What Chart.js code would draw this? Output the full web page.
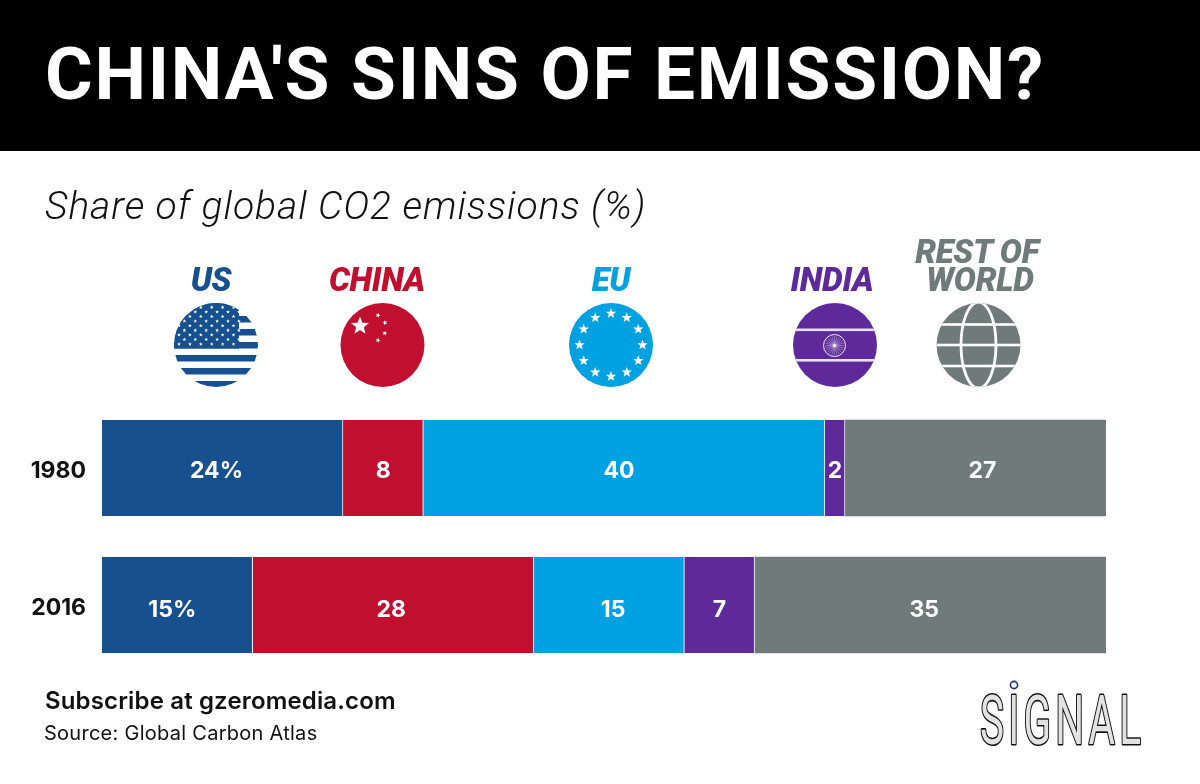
<!DOCTYPE html>
<html>
<head>
<meta charset="utf-8">
<title>China's sins of emission?</title>
<script src="https://cdn.jsdelivr.net/npm/chart.js@4"></script>
<style>
  html, body { margin: 0; padding: 0; background: #fff; }
  #page { position: relative; width: 1200px; height: 784px; overflow: hidden; font-family: Roboto, sans-serif; }
  #band { position: absolute; left: 0; top: 0; width: 1200px; height: 151px; background: #000; }
  canvas { position: absolute; left: 0; top: 0; }
  .txt { position: absolute; white-space: nowrap; line-height: 1; }
  #title { left: 45px; top: 38px; font-size: 73px; font-weight: 700; color: #fff; letter-spacing: 1.7px; }
  #sub { left: 45px; top: 187px; font-size: 39px; font-weight: 300; font-style: italic; color: #111; letter-spacing: 0.95px; }
  #subscribe { left: 45px; top: 689px; font-family: Inter, sans-serif; font-size: 24px; font-weight: 600; color: #111; letter-spacing: 0.15px; }
  #source { left: 44px; top: 723px; font-family: Inter, sans-serif; font-size: 20px; font-weight: 400; color: #111; letter-spacing: 0.27px; }
  .head { font-size: 33px; font-weight: 900; font-style: italic; transform: translateX(-50%); letter-spacing: -0.3px; }
</style>
</head>
<body>
<div id="page">
  <div id="band"></div>
  <canvas id="chart" width="1200" height="784"></canvas>
  <div class="txt" id="title">CHINA'S SINS OF EMISSION?</div>
  <div class="txt" id="sub">Share of global CO2 emissions (%)</div>
  <div class="txt head" style="left:211px;top:263px;color:#16508f">US</div>
  <div class="txt head" style="left:377px;top:263px;color:#c1102f">CHINA</div>
  <div class="txt head" style="left:611px;top:263px;color:#00a1e0">EU</div>
  <div class="txt head" style="left:832px;top:263px;color:#5e2a9b">INDIA</div>
  <div class="txt head" style="left:977px;top:235px;color:#6f7b79">REST OF</div>
  <div class="txt head" style="left:980px;top:263px;color:#6f7b79">WORLD</div>
  <div class="txt" id="subscribe">Subscribe at gzeromedia.com</div>
  <div class="txt" id="source">Source: Global Carbon Atlas</div>
</div>
<script>
// data
const years = ["1980", "2016"];
const usShare = [24, 15];
const chinaShare = [8, 28];
const euShare = [40, 15];
const indiaShare = [2, 7];
const restShare = [26, 35];   // the 1980 bar is drawn as 26 although labelled 27
const usLabels = ["24%", "15%"];
const chinaLabels = ["8", "28"];
const euLabels = ["40", "15"];
const indiaLabels = ["2", "7"];
const restLabels = ["27", "35"];

const BLUE = "#16508f", RED = "#c1102f", SKY = "#00a1e0", PURPLE = "#5e2a9b", GREY = "#6f7b79";

function makeSeries(data, color, labels, shift) {
  return {
    data, labels, shift,
    backgroundColor: color,
    borderColor: "rgba(255,255,255,0.75)",
    borderWidth: { right: color === GREY ? 0 : 1, left: 0, top: 0, bottom: 0 },
    borderSkipped: false,
    barThickness: 96
  };
}

/* =========================
   ICON HELPERS
========================= */

function star(ctx, x, y, r, rot) {
  ctx.beginPath();
  for (let i = 0; i < 10; i++) {
    const rad = i % 2 ? r * 0.42 : r;
    const a = -Math.PI / 2 + (rot || 0) + i * Math.PI / 5;
    ctx.lineTo(x + Math.cos(a) * rad, y + Math.sin(a) * rad);
  }
  ctx.closePath();
  ctx.fill();
}

function disc(ctx, x, y, color, draw) {
  ctx.save();
  ctx.beginPath();
  ctx.arc(x, y, 42, 0, Math.PI * 2);
  ctx.clip();
  ctx.fillStyle = color;
  ctx.fillRect(x - 43, y - 43, 86, 86);
  draw();
  ctx.restore();
}

function drawUS(ctx, x, y) {
  disc(ctx, x, y, "#fff", () => {
    ctx.fillStyle = BLUE;
    for (let i = 0; i < 7; i++) ctx.fillRect(x - 43, y - 42 + i * 13, 86, 6.5);
    ctx.fillRect(x - 43, y - 42, 66, 45.5);
    ctx.fillStyle = "#fff";
    for (let row = 0; row < 9; row++) {
      const odd = row % 2;
      for (let col = 0; col < 6; col++) {
        star(ctx, x - 37 + col * 10.9 + (odd ? 5.4 : 0), y - 37.7 + row * 4.6, 2);
      }
    }
  });
}

function drawChina(ctx, x, y) {
  disc(ctx, x, y, RED, () => {
    ctx.fillStyle = "#fff";
    star(ctx, x - 22.5, y - 19, 9.5);
    star(ctx, x - 4.5, y - 29.7, 2.6, 0.4);
    star(ctx, x + 2.5, y - 22.3, 2.6, 0.9);
    star(ctx, x + 2.2, y - 11.7, 2.6, 0.2);
    star(ctx, x - 4.5, y - 4.7, 2.6, 0.4);
  });
}

function drawEU(ctx, x, y) {
  disc(ctx, x, y, SKY, () => {
    ctx.fillStyle = "#fff";
    for (let i = 0; i < 12; i++) {
      const a = i * Math.PI / 6;
      star(ctx, x + Math.sin(a) * 31.5, y - Math.cos(a) * 31.5, 5.4);
    }
  });
}

function drawIndia(ctx, x, y) {
  disc(ctx, x, y, PURPLE, () => {
    ctx.fillStyle = "#e8e0f2";
    ctx.fillRect(x - 43, y - 16.5, 86, 2.6);
    ctx.fillRect(x - 43, y + 14, 86, 2.6);
    ctx.strokeStyle = "#fff";
    ctx.lineWidth = 0.9;
    ctx.beginPath();
    ctx.arc(x - 0.5, y + 0.5, 11, 0, Math.PI * 2);
    ctx.stroke();
    ctx.strokeStyle = "rgba(255,255,255,0.55)";
    ctx.lineWidth = 0.6;
    for (let i = 0; i < 24; i++) {
      const a = i * Math.PI / 12;
      ctx.beginPath();
      ctx.moveTo(x - 0.5, y + 0.5);
      ctx.lineTo(x - 0.5 + Math.cos(a) * 9.5, y + 0.5 + Math.sin(a) * 9.5);
      ctx.stroke();
    }
    ctx.fillStyle = "#fff";
    ctx.beginPath();
    ctx.arc(x - 0.5, y + 0.5, 1.6, 0, Math.PI * 2);
    ctx.fill();
  });
}

function drawGlobe(ctx, x, y) {
  disc(ctx, x, y, GREY, () => {
    ctx.fillStyle = "#fff";
    [-20.5, 0, 21].forEach(d => ctx.fillRect(x - 43, y + d - 1.3, 86, 2.6));
    ctx.strokeStyle = "#fff";
    ctx.lineWidth = 2.8;
    ctx.beginPath();
    ctx.ellipse(x, y, 17.5, 43, 0, 0, Math.PI * 2);
    ctx.stroke();
  });
}

// hollow squeezed lettering, fitted to the width of the logo
function drawLogo(ctx) {
  ctx.save();
  ctx.font = "400 68px Roboto, sans-serif";
  ctx.letterSpacing = "7px";
  ctx.textBaseline = "alphabetic";
  ctx.textAlign = "left";
  ctx.lineJoin = "round";
  const sx = 161 / (ctx.measureText("SIGNAL").width - 7);
  ctx.translate(980, 743.5);
  ctx.scale(sx, 1);
  ctx.lineWidth = 3.2;
  ctx.strokeStyle = "#111";
  ctx.fillStyle = "#e2e2e2";
  ctx.strokeText("SIGNAL", 0, 0);
  ctx.fillText("SIGNAL", 0, 0);
  ctx.restore();
  ctx.strokeStyle = "#1d2f6f";
  ctx.lineWidth = 1.6;
  ctx.beginPath();
  ctx.arc(1014, 685, 3.6, 0, Math.PI * 2);
  ctx.stroke();
}

/* =========================
   PLUGINS
========================= */

const decorations = {
  id: "decorations",
  afterDraw(chart) {
    const ctx = chart.ctx;
    drawUS(ctx, 216, 345);
    drawChina(ctx, 382.5, 345);
    drawEU(ctx, 611, 345);
    drawIndia(ctx, 835, 345);
    drawGlobe(ctx, 978.5, 345);
    drawLogo(ctx);
  }
};

const barLabels = {
  id: "barLabels",
  afterDatasetsDraw(chart) {
    const ctx = chart.ctx;
    ctx.save();
    ctx.font = "700 23px Inter, sans-serif";
    ctx.fillStyle = "#fff";
    ctx.textAlign = "center";
    ctx.textBaseline = "middle";
    chart.data.datasets.forEach((ds, i) => {
      chart.getDatasetMeta(i).data.forEach((bar, j) => {
        const c = bar.getCenterPoint();
        ctx.fillText(ds.labels[j], c.x + ds.shift[j], c.y + (j ? 5 : 3));
      });
    });
    ctx.restore();
  }
};

/* =========================
   CHART
========================= */

new Chart(document.getElementById("chart"), {
  type: "bar",
  data: {
    labels: years,
    datasets: [
      makeSeries(usShare, BLUE, usLabels, [-6, -5]),
      makeSeries(chinaShare, RED, chinaLabels, [0, -2]),
      makeSeries(euShare, SKY, euLabels, [-5, 4]),
      makeSeries(indiaShare, PURPLE, indiaLabels, [0, 0]),
      makeSeries(restShare, GREY, restLabels, [7, -6])
    ]
  },
  options: {
    indexAxis: "y",
    responsive: false,
    animation: false,
    devicePixelRatio: 1,
    layout: { padding: { left: 0, right: 94, top: 399.5, bottom: 110.5 } },
    plugins: { legend: { display: false }, title: { display: false }, tooltip: { enabled: false } },
    scales: {
      x: { stacked: true, min: 0, max: 100, display: false },
      y: {
        stacked: true,
        grid: { display: false, drawTicks: false },
        border: { display: false },
        afterFit(scale) { scale.width = 102; },
        ticks: {
          color: "#111",
          padding: 16,
          labelOffset: 3,
          font: { family: "Inter, sans-serif", size: 23, weight: "700" }
        }
      }
    }
  },
  plugins: [barLabels, decorations]
});
</script>
</body>
</html>
